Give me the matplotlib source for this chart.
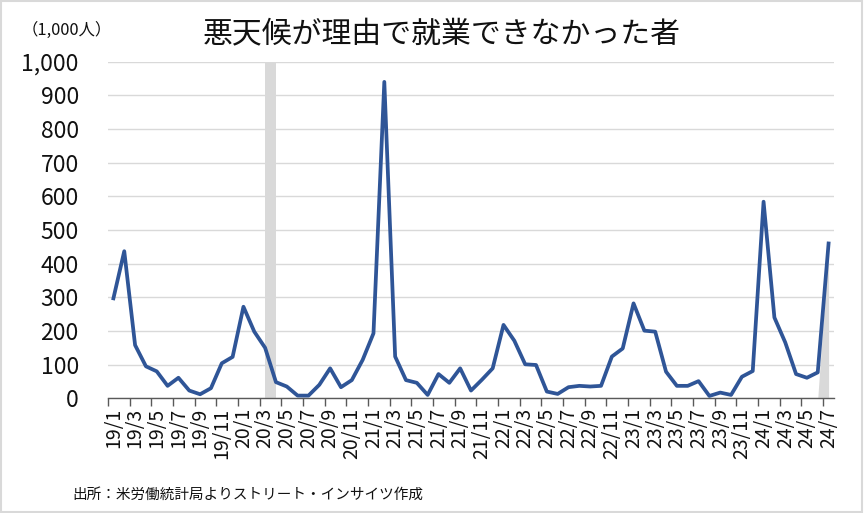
import matplotlib
matplotlib.use("Agg")
import matplotlib.pyplot as plt
import numpy as np
from matplotlib.patches import Rectangle

plt.rcParams['font.family'] = ['Noto Sans CJK JP', 'DejaVu Sans']

# monthly labels 19/1 .. 24/7
months = [f"{y}/{m}" for y in range(19, 25) for m in range(1, 13)][:67]

# persons unable to work due to bad weather (1,000 persons)
workers = [
    297, 437, 158, 95, 80, 37, 61, 23, 12, 30, 104, 123,     # 2019
    272, 198, 150, 48, 35, 8, 8, 40, 89, 33, 54, 114,        # 2020
    193, 940, 124, 54, 46, 10, 72, 46, 89, 23, 55, 89,       # 2021
    218, 171, 101, 99, 20, 13, 33, 37, 35, 37, 124, 148,     # 2022
    282, 201, 198, 79, 37, 37, 51, 7, 17, 10, 64, 81,        # 2023
    584, 240, 166, 72, 61, 77, 460,                          # 2024
]

# recession shading (gray areas)
recession = ["20/3", "20/4"]
recession_top = [1000, 1000]
tail = ["24/6", "24/7"]
tail_top = [0, 460]

title = "悪天候が理由で就業できなかった者"
unit = "（1,000人）"
source = "出所：米労働統計局よりストリート・インサイツ作成"

W, H = 864, 513
fig = plt.figure(figsize=(W / 100, H / 100), dpi=100)
ax = fig.add_axes([108 / W, 1 - 398.3 / H, (834 - 108) / W, (398.3 - 61.7) / H])

x = np.arange(len(workers))
rx = [months.index(m) for m in recession]
tx = [months.index(m) for m in tail]
ax.fill_between(rx, 0, recession_top, color="#d9d9d9", lw=0, zorder=1)
ax.fill_between(tx, 0, tail_top, color="#d9d9d9", lw=0, zorder=1)
ax.plot(x, workers, color="#2f5597", lw=2.7, zorder=3)

ax.set_xlim(-0.5, len(months) - 0.5)
ax.set_ylim(0, 1000)

yt = np.arange(0, 1001, 100)
ax.set_yticks(yt)
ax.set_yticklabels([f"{v:,}" for v in yt])
ax.yaxis.grid(True, color="#d9d9d9", lw=1)
ax.set_axisbelow(True)
ax.tick_params(axis="y", length=0, pad=21, labelsize=16.5, labelcolor="#111111")

ax.set_xticks(x[::2])
ax.set_xticklabels(months[::2], rotation=90)
ax.set_xticks(np.arange(-0.5, len(months), 2), minor=True)
ax.tick_params(axis="x", which="major", length=0, pad=7, labelsize=14, labelcolor="#111111")
ax.tick_params(axis="x", which="minor", length=6, width=1, color="#595959", direction="out")

for s in ("top", "right", "left"):
    ax.spines[s].set_visible(False)
ax.spines["bottom"].set_color("#595959")
ax.spines["bottom"].set_linewidth(1)

fig.text(442 / W, 1 - 35 / H, title, ha="center", va="center", fontsize=21.5, color="#111111")
fig.text(22 / W, 1 - 30 / H, unit, ha="left", va="center", fontsize=11.8, color="#111111")
fig.text(72 / W, 1 - 495 / H, source, ha="left", va="center", fontsize=10.5, color="#111111")

fig.patches.append(Rectangle((0.001, 0.002), 0.997, 0.996, transform=fig.transFigure,
                             fill=False, ec="#d9d9d9", lw=1.5))

fig.savefig("out.png", dpi=100)
